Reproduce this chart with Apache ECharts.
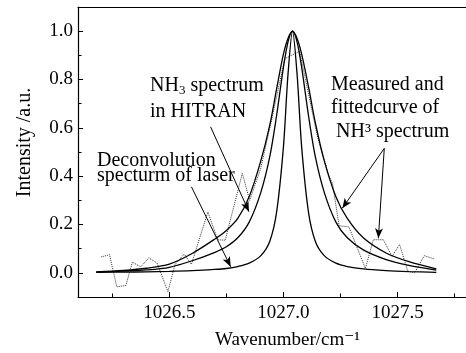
<!DOCTYPE html>
<html><head><meta charset="utf-8">
<script src="https://cdn.jsdelivr.net/npm/echarts@6/dist/echarts.min.js"></script>
<style>html,body{margin:0;padding:0;background:#fff}#c{width:466px;height:353px}</style>
</head><body><div id="c"></div>
<script>
// ---- data ----
const waveGrid = [1026.18, 1026.3, 1026.4, 1026.5, 1026.6, 1026.7, 1026.75, 1026.8, 1026.85, 1026.9, 1026.94, 1026.97, 1027.0, 1027.02, 1027.04, 1027.06, 1027.08, 1027.11, 1027.14, 1027.18, 1027.23, 1027.28, 1027.35, 1027.45, 1027.55, 1027.67];
const fittedCurve = [0.004, 0.010, 0.019, 0.036, 0.08, 0.14, 0.175, 0.225, 0.315, 0.46, 0.61, 0.76, 0.905, 0.97, 1.0, 0.97, 0.905, 0.77, 0.62, 0.46, 0.315, 0.225, 0.145, 0.082, 0.046, 0.016];
const hitranCurve = [0.003, 0.007, 0.012, 0.023, 0.05, 0.085, 0.108, 0.145, 0.21, 0.33, 0.48, 0.65, 0.85, 0.955, 1.0, 0.955, 0.85, 0.65, 0.48, 0.33, 0.21, 0.145, 0.095, 0.055, 0.031, 0.011];
const laserCurve = [0.002, 0.003, 0.004, 0.006, 0.009, 0.014, 0.018, 0.026, 0.04, 0.07, 0.13, 0.25, 0.52, 0.82, 1.0, 0.82, 0.52, 0.25, 0.13, 0.07, 0.04, 0.026, 0.016, 0.009, 0.005, 0.002];
const measuredX = [1026.202, 1026.238, 1026.27, 1026.31, 1026.338, 1026.375, 1026.41, 1026.446, 1026.494, 1026.525, 1026.565, 1026.597, 1026.669, 1026.712, 1026.745, 1026.82, 1026.852, 1026.9, 1026.95, 1027.006, 1027.071, 1027.11, 1027.15, 1027.2, 1027.215, 1027.244, 1027.287, 1027.359, 1027.394, 1027.438, 1027.476, 1027.509, 1027.545, 1027.575, 1027.617, 1027.66];
const measuredY = [0.066, 0.075, -0.058, -0.052, 0.044, 0.025, 0.062, 0.041, -0.078, 0.034, 0.078, 0.035, 0.252, 0.137, 0.135, 0.412, 0.30, 0.43, 0.64, 0.886, 0.917, 0.74, 0.56, 0.40, 0.37, 0.195, 0.19, 0.018, 0.137, 0.137, 0.068, 0.117, 0.007, 0.0, 0.071, 0.058];
const xMajorTicks = [1026.5, 1027.0, 1027.5];
const xMinorTicks = [1026.25, 1026.75, 1027.25, 1027.75];
const yMajorTicks = [0, 0.2, 0.4, 0.6, 0.8, 1.0];
const yMinorTicks = [0.1, 0.3, 0.5, 0.7, 0.9];

const FONT = '"Liberation Serif", "DejaVu Serif", serif';
const pair = (xs, ys) => xs.map((x, i) => [x, ys[i]]);

const chart = echarts.init(document.getElementById('c'), null, {renderer: 'canvas'});
const axisBase = {type: 'value', min: 1026.1, max: 1027.8, splitLine: {show: false}};
const yBase = {type: 'value', min: -0.1, max: 1.1, splitLine: {show: false}};
const solid = {color: '#000', width: 1.3};
const ann = '20px ' + FONT;

chart.setOption({
  animation: false,
  backgroundColor: '#fff',
  grid: {left: 78, top: 7, bottom: 56, right: -6.4, show: false},
  xAxis: [
    Object.assign({}, axisBase, {
      position: 'bottom',
      axisLine: {onZero: false, lineStyle: {color: '#000', width: 1.2}},
      axisTick: {inside: true, length: 5, customValues: xMajorTicks, lineStyle: {color: '#000', width: 1}},
      axisLabel: {customValues: xMajorTicks, formatter: v => v.toFixed(1), color: '#000', fontFamily: FONT, fontSize: 19, margin: 7}
    }),
    Object.assign({}, axisBase, {
      position: 'bottom',
      axisLine: {show: false, onZero: false},
      axisTick: {inside: true, length: 3.5, customValues: xMinorTicks, lineStyle: {color: '#000', width: 1}},
      axisLabel: {show: false}
    }),
    Object.assign({}, axisBase, {
      position: 'top',
      axisLine: {onZero: false, lineStyle: {color: '#000', width: 1.2}},
      axisTick: {show: false},
      axisLabel: {show: false}
    })
  ],
  yAxis: [
    Object.assign({}, yBase, {
      position: 'left',
      axisLine: {onZero: false, lineStyle: {color: '#000', width: 1.2}},
      axisTick: {inside: true, length: 5, customValues: yMajorTicks, lineStyle: {color: '#000', width: 1}},
      axisLabel: {customValues: yMajorTicks, formatter: v => v.toFixed(1), color: '#000', fontFamily: FONT, fontSize: 19, margin: 5}
    }),
    Object.assign({}, yBase, {
      position: 'left',
      axisLine: {show: false, onZero: false},
      axisTick: {inside: true, length: 3.5, customValues: yMinorTicks, lineStyle: {color: '#000', width: 1}},
      axisLabel: {show: false}
    })
  ],
  series: [
    {type: 'line', name: 'measured', data: pair(measuredX, measuredY), symbol: 'none', smooth: false,
     lineStyle: {color: '#333', width: 1, type: 'dotted'}},
    {type: 'line', name: 'fitted', data: pair(waveGrid, fittedCurve), symbol: 'none', smooth: 0.3, lineStyle: solid},
    {type: 'line', name: 'hitran', data: pair(waveGrid, hitranCurve), symbol: 'none', smooth: 0.3, lineStyle: solid},
    {type: 'line', name: 'laser', data: pair(waveGrid, laserCurve), symbol: 'none', smooth: 0.3, lineStyle: solid,
     markLine: {
       silent: true, animation: false,
       symbol: ['none', 'arrow'], symbolSize: [6, 10],
       lineStyle: {color: '#000', width: 1, type: 'solid'},
       label: {show: false},
       data: [
         [{coord: [1026.681, 0.604]}, {coord: [1026.849, 0.253]}],
         [{coord: [1026.597, 0.356]}, {coord: [1026.769, 0.025]}],
         [{coord: [1027.442, 0.515]}, {coord: [1027.258, 0.267]}],
         [{coord: [1027.442, 0.515]}, {coord: [1027.416, 0.143]}]
       ]
     }}
  ],
  graphic: [
    {type: 'text', left: 150, top: 76, style: {text: 'NH{s|3} spectrum', font: ann, fill: '#000',
      rich: {s: {fontSize: 13, fontFamily: FONT, verticalAlign: 'bottom', padding: [10, 0, 0, 0]}}}},
    {type: 'text', x: 150, y: 111.7, style: {text: 'in HITRAN', font: ann, fill: '#000', verticalAlign: 'middle'}},
    {type: 'text', x: 97, y: 160.7, style: {text: 'Deconvolution', font: ann, fill: '#000', verticalAlign: 'middle'}},
    {type: 'text', x: 97, y: 175.7, style: {text: 'specturm of laser', font: ann, fill: '#000', verticalAlign: 'middle'}},
    {type: 'text', x: 331, y: 84.7, style: {text: 'Measured and', font: ann, fill: '#000', verticalAlign: 'middle'}},
    {type: 'text', x: 331, y: 107.3, style: {text: 'fittedcurve of', font: ann, fill: '#000', verticalAlign: 'middle'}},
    {type: 'text', x: 336, y: 131.7, style: {text: 'NH³ spectrum', font: ann, fill: '#000', verticalAlign: 'middle'}},
    {type: 'text', x: 215, y: 340, style: {text: 'Wavenumber/cm⁻¹', font: '19px ' + FONT, fill: '#000', verticalAlign: 'middle'}},
    {type: 'text', x: 25, y: 142.5, rotation: Math.PI / 2, style: {text: 'Intensity /a.u.', font: ann, fill: '#000', align: 'center', verticalAlign: 'middle'}}
  ]
});
</script>
</body></html>
